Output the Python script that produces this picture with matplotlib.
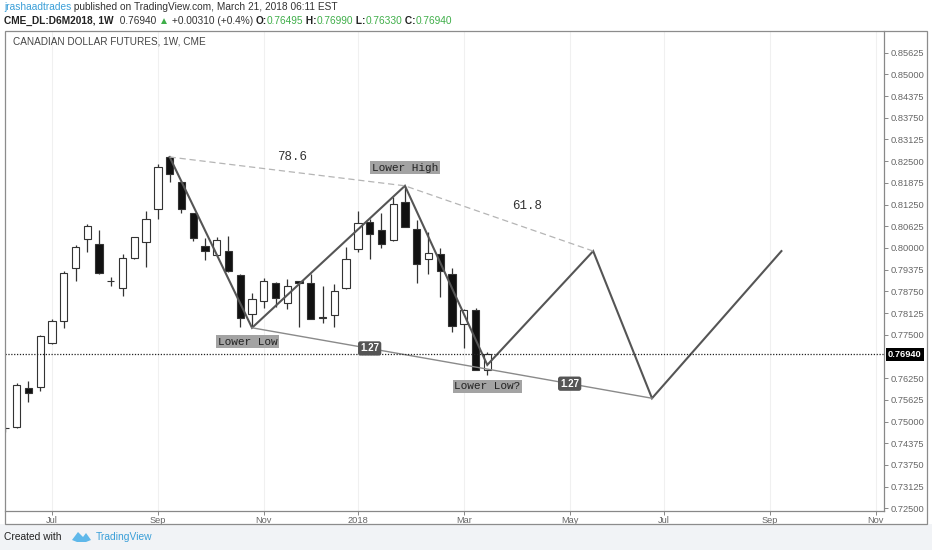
#!/usr/bin/env python3
"""Weekly Canadian dollar futures candles with a hand-drawn projection pattern."""

import matplotlib

matplotlib.use("Agg")
import matplotlib.pyplot as plt
import numpy as np
from matplotlib.patches import Rectangle, Polygon
from matplotlib.text import Annotation
from matplotlib.transforms import blended_transform_factory

W, H = 932, 550
GRID = "#f0f0f0"
AXIS_TXT = "#666666"
GREEN = "#3fae49"
BLUE = "#3a9fd8"
SANS = ["Liberation Sans", "DejaVu Sans"]
MONO = ["Liberation Mono", "DejaVu Sans Mono"]

# weekly candles, index 0 = week of 2017-06-12
weeks = list(range(-1, 41))
opens = [0.7480, 0.7485, 0.7596, 0.7599, 0.7726, 0.7791, 0.7942, 0.8025, 0.8010, 0.7904, 0.7886,
         0.7970, 0.8017, 0.8112, 0.8261, 0.8189, 0.8100, 0.8006, 0.7979, 0.7992, 0.7922, 0.7810,
         0.7848, 0.7900, 0.7841, 0.7905, 0.7898, 0.7800, 0.7806, 0.7884, 0.7996, 0.8074, 0.8052,
         0.8023, 0.8131, 0.8054, 0.7968, 0.7983, 0.7924, 0.7781, 0.7822, 0.76495]
highs = [0.7484, 0.7612, 0.7617, 0.7750, 0.7796, 0.7935, 0.8008, 0.8068, 0.8052, 0.7917, 0.7982,
         0.8033, 0.8107, 0.8242, 0.8264, 0.8192, 0.8102, 0.8028, 0.8033, 0.8035, 0.7924, 0.7871,
         0.7913, 0.7902, 0.7910, 0.7906, 0.7925, 0.7889, 0.7896, 0.8002, 0.8106, 0.8084, 0.8102,
         0.8148, 0.8179, 0.8081, 0.8047, 0.7999, 0.7942, 0.7823, 0.7826, 0.76990]
lows = [0.7470, 0.7482, 0.7557, 0.7589, 0.7724, 0.7769, 0.7905, 0.7989, 0.7925, 0.7889, 0.7862,
        0.7968, 0.7946, 0.8083, 0.8189, 0.8102, 0.8021, 0.7966, 0.7977, 0.7931, 0.7773, 0.7771,
        0.7826, 0.7831, 0.7824, 0.7772, 0.7794, 0.7785, 0.7772, 0.7882, 0.7987, 0.7968, 0.7999,
        0.8020, 0.8059, 0.7898, 0.7925, 0.7858, 0.7759, 0.7711, 0.7647, 0.76330]
closes = [0.7482, 0.7604, 0.7582, 0.7745, 0.7791, 0.7927, 0.8004, 0.8064, 0.7927, 0.7906, 0.7972,
          0.8031, 0.8083, 0.8234, 0.8212, 0.8112, 0.8030, 0.7991, 0.8023, 0.7934, 0.7799, 0.7853,
          0.7906, 0.7855, 0.7889, 0.7898, 0.7796, 0.7798, 0.7876, 0.7968, 0.8071, 0.8040, 0.8012,
          0.8127, 0.8061, 0.7953, 0.7985, 0.7934, 0.7775, 0.7822, 0.7649, 0.76940]

# drawn pattern
zigzag_week = [13, 20, 33, 40, 49, 54, 65]
zigzag_price = [0.8262, 0.7770, 0.8179, 0.7663, 0.7991, 0.7567, 0.7991]
low_line_week = [20, 40, 54]
low_line_price = [0.7770, 0.7651, 0.7567]
low_line_labels = ["1.27", "1.27"]
fib_week = [13, 33, 49]
fib_price = [0.8262, 0.8179, 0.7991]
fib_labels = ["78.6", "61.8"]

last_price = 0.76940
price_ticks = [0.725 + 0.00625 * k for k in range(22)]
month_week = [3, 12, 21, 29, 38, 47, 55, 64, 73]
month_labels = ["Jul", "Sep", "Nov", "2018", "Mar", "May", "Jul", "Sep", "Nov"]


def fx(px):
    return px / W


def fy(py):
    return 1 - py / H


def pt(px):
    return px * 72 / 100


def draw_candles(ax):
    o, h, l, c = map(np.array, (opens, highs, lows, closes))
    up = c >= o
    ax.vlines(weeks, l, h, color="#333333", lw=0.9, zorder=2)
    bottoms = np.minimum(o, c)
    heights = np.maximum(np.abs(c - o), 0.00008)
    ax.bar(weeks, heights, bottom=bottoms, width=0.62,
           color=np.where(up, "white", "#111111"), edgecolor="#333333", lw=0.8, zorder=3)


def draw_pattern(ax):
    ax.plot(zigzag_week, zigzag_price, color="#555555", lw=1.5, zorder=4, solid_joinstyle="miter")
    ax.plot(low_line_week, low_line_price, color="#8a8a8a", lw=1.0, zorder=4)
    ax.plot(fib_week, fib_price, color="#b5b5b5", lw=0.9, ls=(0, (5, 3)), zorder=4)

    for k, label in enumerate(low_line_labels):
        mx = (low_line_week[k] + low_line_week[k + 1]) / 2
        my = (low_line_price[k] + low_line_price[k + 1]) / 2
        ax.text(mx, my, label, ha="center", va="center", fontsize=7, color="white",
                fontweight="bold", family=SANS, zorder=6,
                bbox=dict(boxstyle="round,pad=0.22,rounding_size=0.25", fc="#555555", ec="none"))

    offsets = [(5, 14.5), (28, 12.5)]
    for k, label in enumerate(fib_labels):
        mx = (fib_week[k] + fib_week[k + 1]) / 2
        my = (fib_price[k] + fib_price[k + 1]) / 2
        ax.annotate(label, (mx, my), xytext=(pt(offsets[k][0]), pt(offsets[k][1])),
                    textcoords="offset points", ha="center", va="center",
                    fontsize=9, color="#333333", family=MONO, zorder=6)

    box = dict(boxstyle="square,pad=0.15", fc="#a3a3a3", ec="none")
    for label, idx, off in [("Lower High", 2, (0, 18)), ("Lower Low", 1, (-4.5, -14)),
                            ("Lower Low?", 3, (0, -21.5))]:
        ax.annotate(label, (zigzag_week[idx], zigzag_price[idx]),
                    xytext=(pt(off[0]), pt(off[1])), textcoords="offset points",
                    ha="center", va="center", fontsize=8, color="#222222",
                    family=MONO, bbox=box, zorder=6)


def header(fig):
    parts1 = [("jrashaadtrades", BLUE, "normal"),
              (" published on TradingView.com, March 21, 2018 06:11 EST", "#333333", "normal")]
    parts2 = [("CME_DL:D6M2018, 1W", "#222222", "bold"), ("  0.76940 ", "#333333", "normal"),
              ("\u25b2", GREEN, "normal"), (" +0.00310 (+0.4%) ", "#333333", "normal"),
              ("O:", "#222222", "bold"), ("0.76495", GREEN, "normal"),
              (" H:", "#222222", "bold"), ("0.76990", GREEN, "normal"),
              (" L:", "#222222", "bold"), ("0.76330", GREEN, "normal"),
              (" C:", "#222222", "bold"), ("0.76940", GREEN, "normal")]
    for parts, py in [(parts1, 7.5), (parts2, 21)]:
        last = None
        for text, color, weight in parts:
            kw = dict(color=color, fontweight=weight, fontsize=7.3, family=SANS, va="center")
            if last is None:
                last = fig.text(fx(4), fy(py), text, ha="left", **kw)
            else:
                last = fig.add_artist(Annotation(text, xy=(1, 0.5), xycoords=last, ha="left",
                                                 annotation_clip=False, **kw))


def footer(fig):
    fig.patches.append(Rectangle((0, 0), 1, fy(524), transform=fig.transFigure,
                                 fc="#f1f3f6", ec="none", zorder=0))
    fig.text(fx(4), fy(537), "Created with", fontsize=7.4, color="#222222", family=SANS, va="center")
    logo = np.array([[72, 540], [78, 532], [83, 537], [86, 533], [91, 540], [86, 542], [77, 542]])
    fig.patches.append(Polygon(np.c_[logo[:, 0] / W, 1 - logo[:, 1] / H], closed=True,
                               transform=fig.transFigure, fc="#5fb8ea", ec="none"))
    fig.text(fx(96), fy(537), "TradingView", fontsize=7.4, color=BLUE, family=SANS, va="center")


def main():
    fig = plt.figure(figsize=(W / 100, H / 100), dpi=100, facecolor="white")
    ax = fig.add_axes([fx(5), fy(511), fx(884 - 5), (511 - 30.7) / H])
    ax.set_facecolor("white")

    draw_candles(ax)
    draw_pattern(ax)

    ax.axhline(last_price, color="#222222", lw=0.9, ls=(0, (1, 1.3)), zorder=5)
    tr = blended_transform_factory(ax.transAxes, ax.transData)
    ax.text(1.0045, last_price, f"{last_price:.5f}", transform=tr, ha="left", va="center",
            fontsize=6.7, color="white", fontweight="bold", family=SANS, clip_on=False,
            bbox=dict(boxstyle="square,pad=0.2", fc="black", ec="none"), zorder=7)

    ax.set_xlim(-0.995, 73.72)
    ax.set_ylim(0.72422, 0.86259)

    # the last-price tag hides the neighbouring grid value
    shown = [v for v in price_ticks if abs(v - last_price) > 0.003]
    ax.yaxis.tick_right()
    ax.set_yticks(shown, [f"{v:.5f}" for v in shown])
    ax.set_xticks(month_week, month_labels)
    ax.tick_params(axis="y", length=3, width=0.7, color="#888888", labelsize=6.7,
                   labelcolor=AXIS_TXT, pad=1.5)
    ax.tick_params(axis="x", length=3, width=0.7, color="#888888", labelsize=6.7,
                   labelcolor=AXIS_TXT, pad=0.5)
    for lab in ax.get_xticklabels() + ax.get_yticklabels():
        lab.set_family(SANS)
    ax.grid(axis="x", color=GRID, lw=0.8, zorder=0)
    for side in ["left", "top"]:
        ax.spines[side].set_visible(False)
    for side in ["right", "bottom"]:
        ax.spines[side].set_color("#888888")
        ax.spines[side].set_linewidth(0.9)

    ax.text((12.7 - 5) / 879, 1 - (42 - 30.7) / (511 - 30.7),
            "CANADIAN DOLLAR FUTURES, 1W, CME", transform=ax.transAxes, ha="left", va="center",
            fontsize=7.2, color="#444444", family=SANS)

    fig.patches.append(Rectangle((fx(5), fy(523.7)), fx(927 - 5), (523.7 - 30.7) / H,
                                 transform=fig.transFigure, fill=False, ec="#8c8c8c", lw=0.9,
                                 zorder=10))
    header(fig)
    footer(fig)
    fig.savefig("out.png", dpi=100, facecolor="white")


if __name__ == "__main__":
    main()
